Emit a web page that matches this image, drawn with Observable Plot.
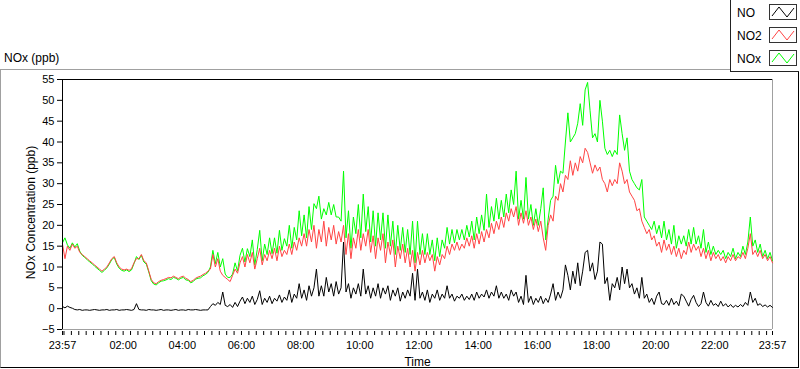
<!DOCTYPE html>
<html><head><meta charset="utf-8">
<script src="https://cdn.jsdelivr.net/npm/d3@7"></script>
<script src="https://cdn.jsdelivr.net/npm/@observablehq/plot@0.6"></script>
<style>
html,body{margin:0;padding:0;background:#fff;}
#wrap{position:relative;width:800px;height:369px;overflow:hidden;font-family:"Liberation Sans",Arial,sans-serif;color:#000;}
#box{position:absolute;left:0;top:69px;width:797px;height:297px;border-top:1px solid #a0a0a0;border-left:1px solid #a0a0a0;border-right:1px solid #000;border-bottom:1px solid #000;}
#title{position:absolute;left:4px;top:51px;font-size:12px;line-height:14px;}
#chart{position:absolute;left:0;top:0;}
#legend{position:absolute;left:730px;top:0;width:68px;height:71px;border-left:1px solid #222;border-bottom:1px solid #222;background:#fff;}
.lg-label{position:absolute;left:6px;font-size:12px;line-height:14px;}
.lg-sw{position:absolute;left:38px;}
</style>
</head><body>
<div id="wrap">
  <div id="box"></div>
  <div id="title">NOx (ppb)</div>
  <div id="chart"></div>
  <div id="legend"></div>
</div>
<script>
// ---- data (5-minute samples from 23:57 to 23:57 next day) ----
const seriesNames = ["NO", "NO2", "NOx"];
const seriesColors = ["#000000", "#ff4444", "#00ff00"];
const startLabel = [2000, 0, 1, 23, 57];
const endLabel = [2000, 0, 2, 23, 57];
const stepMinutes = 5;
const yTickValues = [-5, 0, 5, 10, 15, 20, 25, 30, 35, 40, 45, 50, 55];
const xTickLabels = ["23:57","02:00","04:00","06:00","08:00","10:00","12:00","14:00","16:00","18:00","20:00","22:00","23:57"];

const NO = [
0.5,0.2,0.6,0.3,0.1,-0.2,-0.3,-0.2,-0.4,-0.3,
-0.3,-0.4,-0.3,-0.2,-0.3,-0.4,-0.3,-0.3,-0.2,-0.4,
-0.3,-0.3,-0.2,-0.4,-0.3,-0.3,-0.2,-0.3,-0.4,-0.2,
1.2,-0.2,-0.3,-0.3,-0.4,-0.2,-0.3,-0.3,-0.4,-0.3,
-0.2,-0.4,-0.3,-0.3,-0.4,-0.3,-0.2,-0.4,-0.3,-0.3,
-0.4,-0.2,-0.3,-0.3,-0.2,-0.3,-0.4,-0.3,-0.3,-0.3,
0.5,1.2,0.8,1.5,1.0,4.0,0.8,0.5,1.0,0.3,
1.5,0.5,1.8,2.8,1.2,2.5,1.5,3.0,1.0,2.2,
4.3,1.0,2.5,1.5,3.0,1.2,2.5,1.8,3.3,1.5,
2.8,2.0,4.5,1.5,3.5,2.5,6.0,2.5,4.5,2.0,
5.5,3.0,5.0,9.5,3.0,5.5,3.0,7.5,4.0,6.0,
3.0,6.5,3.5,5.0,16.0,4.0,6.0,2.5,5.0,3.5,
6.0,3.0,9.5,3.5,5.5,2.5,5.0,3.0,6.0,2.5,
5.0,3.5,5.5,2.0,4.5,3.0,5.0,1.8,4.0,2.5,
4.5,3.0,8.5,2.0,9.5,2.5,4.0,2.0,4.5,1.5,
3.5,2.5,4.5,2.0,3.5,2.5,5.5,2.5,3.5,1.8,
3.0,2.5,3.5,2.0,3.0,2.2,3.5,2.0,4.0,2.5,
3.5,2.8,4.5,2.5,4.0,3.0,5.5,2.5,4.0,2.5,
3.5,2.0,4.5,3.0,4.0,1.5,3.0,1.0,8.0,1.5,
3.0,1.0,2.5,1.5,3.0,1.2,2.5,1.5,3.5,6.0,
2.0,4.0,2.5,4.5,10.5,8.0,4.5,9.0,6.0,11.0,
5.5,9.0,13.5,14.0,9.0,11.0,7.0,9.0,16.0,15.5,
6.0,7.5,2.0,6.0,5.0,7.5,4.5,10.0,6.0,9.5,
5.0,6.0,3.5,5.0,2.5,7.5,2.5,3.5,1.5,2.5,
1.0,3.0,4.0,1.2,1.0,2.0,0.8,2.5,1.0,1.8,
0.7,3.5,3.0,1.8,0.6,2.2,3.2,1.5,0.5,1.2,
4.0,1.5,0.6,2.0,0.8,1.2,0.5,1.8,0.6,1.2,
0.4,1.0,0.3,0.8,0.4,1.0,0.5,1.5,0.8,4.0,
1.5,2.5,0.8,1.2,0.5,0.9,0.4,0.8,0.3
];

const NO2 = [
15.5,12,15,14,15.5,14.5,15,13.5,13,12.5,
12,11.5,11,10.5,10,9.5,9,9.5,10,11,
12,12.5,11,10,9.5,9.3,9.5,9.2,9.6,11,
12,12,13,11.5,11,9,7,6.2,6,6.5,
6.8,7,7.2,7.5,7.4,7.8,7.5,7.2,7.6,7.8,
7.3,7,6.5,6.8,7.3,7.6,7.8,8.2,8.5,9,
9.5,13,10,12,9,8,7.5,7,6.5,8,
9.5,8.5,11,12.5,10,13,11,13.5,9.5,12,
14.5,10.5,13,11.5,14,12,14.5,11.5,15,12.5,
14,13,15.5,13,16,14,17,15,18,15,
19,16,20,14.5,19,16,21,15,19.5,16.5,
20,15.5,18.5,16,20,13,18,12,17,14.5,
19,14,18,15,19,13.5,17.5,12,17,14,
18,11,16,13,16.5,10,15,12,15.5,11,
14.5,10,14,9,13.5,10.5,14,11,13.5,11.5,
13,9,12.5,10.5,13,12,15,13,15.5,14,
16,14,15.5,14.5,17,15,17.5,14.5,18,15.5,
18.5,16,19,17,20.5,18,21,19,22,19.5,
23,21,24,22,24.5,20,23,20.5,23.5,20,
22,19,21.5,18.5,21,17,14,20,22.5,21,
27,26,30,28,32,31,35.5,32,35,33,
36.5,35,38.5,37.5,35,32.5,34.5,33,34,31,
30,28,31,29.5,31,30,35,33,30,31,
28,27,26,23.5,24,21,19.5,18,19,16.5,
17.5,15,16,13.5,16.5,14,15.5,13,15,12.5,
14.5,12,14,13,16,13.5,15.5,14,15,12.5,
14.5,12,14,11.5,13.5,12,13,11.5,12.5,11,
12.5,11.5,13,11.5,12.5,12,13.5,12,14.5,18,
13,14,12.5,14,12,13,11.5,12.5,11
];

const NOx = [
15.8,17,15.3,14.5,15.8,14.8,15.6,13.8,12.8,12.3,
11.8,11.2,10.8,10.2,9.7,9.2,8.7,9.2,9.8,10.7,
11.8,12.3,10.7,9.7,9.2,9.0,9.3,8.9,9.3,10.8,
12.5,11.8,12.8,11.2,10.7,8.8,6.7,5.9,5.7,6.2,
6.6,6.7,6.9,7.2,7.0,7.5,7.3,6.9,7.3,7.5,
6.9,6.8,6.2,6.5,7.1,7.3,7.4,7.9,8.2,8.7,
10,14,10.8,13.5,10,12,8.3,7.5,7.5,8.3,
11,9,12.8,14.5,11.2,14.4,12.5,16.5,10.5,14.2,
18.8,11.5,15.5,13,17,13.2,17,13.3,18.8,14,
16.8,15,20,14.5,19.5,16.5,23.5,17.5,22.5,17,
24.5,19,25.2,24,27,21.5,24,22.5,25.5,22.5,
25,22,22,21,33,17,23.5,14.5,22,18,
25,17,27.5,18.5,24.5,16,23.5,15,23,16.5,
23,14.5,22.5,15,21,13,20,14,19.5,13.5,
19,13,21,11,21,13,18,13,18,13,
16.5,11.5,17,12.5,16.5,14.5,19.5,15.5,19,15.8,
19,16.5,19,16.5,20,17.2,21,16.5,22,18,
22.5,18.8,27.5,19.5,24.5,21,26.5,21.5,26,22,
27.5,23,28.5,25,33,21.5,26,21.5,31.5,21.5,
25,20,24,20,24,29,16.5,21.5,26,27,
34.4,30,33,32.5,40,47,40,41,42,44.5,
49.2,44,52.5,54.3,47.5,41,42,40,50,45,
38.5,37,38,36.5,38,37,46.5,42,38,41,
33,31,30,29,28.5,31,22,21,20,19,
21,18,20,17,21,16.5,19,15.5,20,14.5,
17.5,15.5,17.5,15,19,15.5,19.5,15.5,17.5,14.5,
19,13.5,16,13,15,13,14,13,14,12,
13.5,12.5,14.5,12,13.5,12.5,15,13,16,22,
15,16.5,13.5,15.5,12.5,14,12,13.5,11.5
];

// ---- build ----
const startDate = new Date(Date.UTC(...startLabel));
const endDate = new Date(Date.UTC(...endLabel));
const toRows = (vals, name) => vals.map((v, i) => ({t: new Date(+startDate + i * stepMinutes * 60000), v, s: name}));
const seriesData = [NO, NO2, NOx];

const fmt = d3.utcFormat("%H:%M");
const majorTicks = [startDate, ...d3.utcHour.every(2).range(new Date(+startDate + 60000), endDate).filter(d => xTickLabels.includes(fmt(d))), endDate];
const minorTicks = [startDate, ...d3.utcMinute.every(15).range(startDate, endDate), endDate];

const font = '"Liberation Sans", Arial, sans-serif';
const lineMarks = [2, 1, 0].map(k =>
  Plot.lineY(toRows(seriesData[k], seriesNames[k]), {x: "t", y: "v", stroke: seriesColors[k], strokeWidth: 1})
);

const chart = Plot.plot({
  width: 800,
  height: 369,
  marginLeft: 62,
  marginRight: 28,
  marginTop: 79,
  marginBottom: 40,
  style: {background: "transparent", fontFamily: font, fontSize: "11px", color: "#000"},
  x: {type: "utc", domain: [startDate, endDate]},
  y: {domain: [-5, 55]},
  marks: [
    Plot.ruleY([-5], {stroke: "#a0a0a0"}),
    Plot.ruleX([endDate], {stroke: "#a0a0a0"}),
    ...lineMarks,
    Plot.ruleY([55], {stroke: "#000"}),
    Plot.ruleX([startDate], {stroke: "#000"}),
    Plot.axisY({ticks: yTickValues, tickSize: 5, tickPadding: 3, label: null}),
    Plot.axisX({ticks: minorTicks, tickSize: 4, dy: 2, tickFormat: () => "", label: null}),
    Plot.axisX({ticks: majorTicks, tickSize: 0, tickPadding: 12, tickFormat: fmt, label: null}),
    Plot.text(["Time"], {frameAnchor: "bottom", lineAnchor: "middle", textAnchor: "middle", dy: 33, fontSize: 12}),
    Plot.text(["NOx Concentration (ppb)"], {frameAnchor: "left", textAnchor: "middle", lineAnchor: "middle", rotate: -90, dx: -31, dy: 8, fontSize: 12})
  ]
});
document.getElementById("chart").appendChild(chart);

// ---- legend ----
const legend = document.getElementById("legend");
seriesNames.forEach((name, k) => {
  const lab = document.createElement("div");
  lab.className = "lg-label";
  lab.style.top = (6 + 23 * k) + "px";
  lab.textContent = name;
  legend.appendChild(lab);
  const sw = d3.create("svg").attr("class", "lg-sw").attr("width", 29).attr("height", 16)
    .style("top", (4 + 23 * k) + "px");
  sw.append("rect").attr("x", 0.5).attr("y", 0.5).attr("width", 27).attr("height", 15)
    .attr("fill", "#fff").attr("stroke", "#333");
  sw.append("polyline").attr("points", "3,12 10,3 18,13 25,4")
    .attr("fill", "none").attr("stroke", seriesColors[k]).attr("stroke-width", 1);
  legend.appendChild(sw.node());
});
</script>
</body></html>
